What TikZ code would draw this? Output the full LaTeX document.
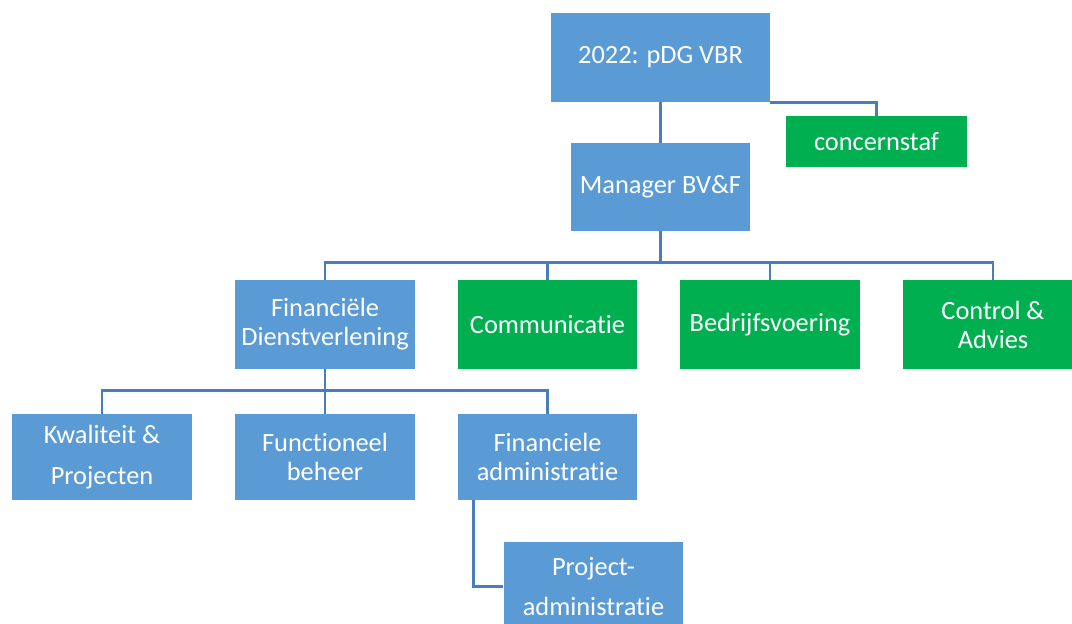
\documentclass[tikz,border=0pt]{standalone}
\usepackage{fontspec}
\setmainfont{Carlito}[Ligatures=NoCommon]
\usetikzlibrary{positioning}
\definecolor{OrgBlue}{RGB}{91,155,213}
\definecolor{OrgGreen}{RGB}{0,176,80}
\definecolor{LinkBlue}{RGB}{74,126,187}
\tikzset{
  link/.style={draw=LinkBlue,line width=1.6pt},
  unit/.style={fill=OrgBlue,text=white,align=center,inner sep=0pt,
    minimum width=3.6cm,minimum height=1.78cm,
    font=\fontsize{15}{16.5}\selectfont},
  greenunit/.style={unit,fill=OrgGreen},
  wideunit/.style={unit,font=\fontsize{15}{23.3}\selectfont}
}

\begin{document}
\begin{tikzpicture}[x=0.02cm,y=-0.02cm]
  \useasboundingbox (0,0) rectangle (1072,623);
  % top of the tree
  \node[unit,minimum width=4.38cm] (top) at (660.5,57.5) {2022: pDG VBR};
  \node[greenunit,minimum width=3.62cm,minimum height=1.02cm] (staf) at (876.5,141.5) {concernstaf};
  \node[unit,minimum width=3.58cm,minimum height=1.76cm] (mgr) at (660.5,187) {Manager BV\&F};
  % second level
  \node[unit] (fd) at (325,324.5) {Financiële\\Dienstverlening};
  \node[greenunit] (comm) at (547.5,324.5) {Communicatie};
  \node[greenunit] (bedr) at (770,324.5) {Bedrijfsvoering};
  \node[greenunit] (ctrl) at (993,324.5) {Control \&\\Advies};
  % third level
  \node[wideunit,minimum height=1.72cm] (kp) at (102,457) {Kwaliteit \&\\Projecten};
  \node[unit,minimum height=1.72cm] (fb) at (325,457) {Functioneel\\beheer};
  \node[unit,minimum height=1.72cm] (fa) at (547.5,457) {Financiele\\administratie};
  \node[wideunit] (pa) at (593.5,586.5) {Project-\\administratie};
  % connectors
  \draw[link] (top.south) -- (mgr.north);
  \draw[link] (top.south east) -| (staf.north);
  \foreach \n in {fd,comm,bedr,ctrl}
    \draw[link] (mgr.south) -- ++(0,31) -| (\n.north);
  \foreach \n in {kp,fb,fa}
    \draw[link] (fd.south) -- ++(0,21) -| (\n.north);
  \draw[link] ([xshift=0.32cm]fa.south west) |- (pa.west);
\end{tikzpicture}
\end{document}
